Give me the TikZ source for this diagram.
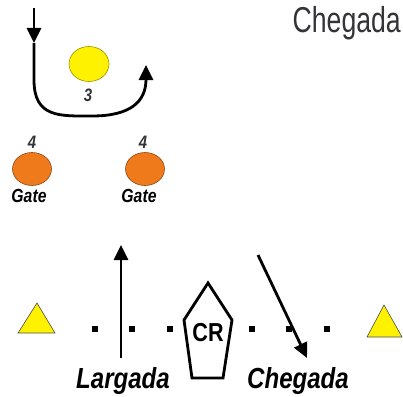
\documentclass[tikz,border=0pt]{standalone}
\usepackage{fontspec}
\setmainfont{Liberation Sans}
\newfontfamily\labelfont{Liberation Sans}[FakeStretch=0.83]
\newfontfamily\titlefont{Liberation Sans}[FakeStretch=0.74]
\usetikzlibrary{arrows.meta,shapes.geometric}
\definecolor{coneyellow}{HTML}{FFF200}
\definecolor{buoyorange}{HTML}{EE7A1C}
\definecolor{numgray}{HTML}{333338}
\begin{document}
\begin{tikzpicture}[
      x=1pt, y=-1pt,
      course/.style={line width=2.8pt, -{Triangle[length=15pt,width=14pt]}},
      buoy/.style={ellipse, draw=#1!60!black, fill=#1, line width=0.6pt, inner sep=0pt},
      cone/.style={fill=coneyellow, draw=black!70, line width=0.6pt},
      marker/.style={fill=black, minimum size=6pt, inner sep=0pt},
      tag/.style={font=\labelfont\bfseries\itshape\fontsize{#1}{#1}\selectfont, inner sep=0pt, anchor=base},
      tag/.default=19
    ]
    \useasboundingbox (0,0) rectangle (403,396);

    % boias
    \node[buoy=coneyellow, minimum width=40pt, minimum height=35pt] (mark3) at (89,64) {};
    \node[buoy=buoyorange, minimum width=39pt, minimum height=33pt] (gateL) at (32,169) {};
    \node[buoy=buoyorange, minimum width=39pt, minimum height=33pt] (gateR) at (145,169) {};
    \node[tag=18, text=numgray] (num3) at (88,101) {3};
    \node[tag=18, text=numgray] (num4L) at (32,148) {4};
    \node[tag=18, text=numgray] (num4R) at (143,148) {4};
    \node[tag] (gateTxtL) at (29,202) {Gate};
    \node[tag] (gateTxtR) at (139,202) {Gate};

    % volta na boia 3
    \coordinate (in) at (34,8);
    \coordinate (mid) at (34,43);
    \coordinate (out) at (146,65);
    \draw[course] (in) -- (mid);
    \draw[course] (mid) -- (34,80) .. controls (34,118) and (60,116) .. (92,116)
      .. controls (130,116) and (146,102) .. (out);

    % linha de largada / chegada
    \draw[cone] (18,333) -- (55,333) -- (37,303) -- cycle;
    \draw[cone] (367,337) -- (402,337) -- (384,305) -- cycle;
    \foreach \px in {95,132,170,252,289,327}
      \node[marker] at (\px,329) {};
    \draw[line width=2.8pt, line join=miter] (208,283) -- (232,320) -- (223,378)
      -- (192,378) -- (184,320) -- cycle;
    \node[font=\labelfont\bfseries\fontsize{26}{26}\selectfont, inner sep=0pt] (cr) at (208,333) {CR};

    \coordinate (startA) at (121,358);
    \coordinate (startB) at (121,245);
    \draw[course] (startA) -- (startB);
    \coordinate (finA) at (258,255);
    \coordinate (finB) at (307,358);
    \draw[course] (finA) -- (finB);

    \node[tag=29] (largada) at (123,388) {Largada};
    \node[tag=29] (chegada) at (298,388) {Chegada};
    \node[font=\titlefont\fontsize{36}{36}\selectfont, text=numgray, inner sep=0pt, anchor=base east] (title) at (401,33) {Chegada};

\end{tikzpicture}
\end{document}
